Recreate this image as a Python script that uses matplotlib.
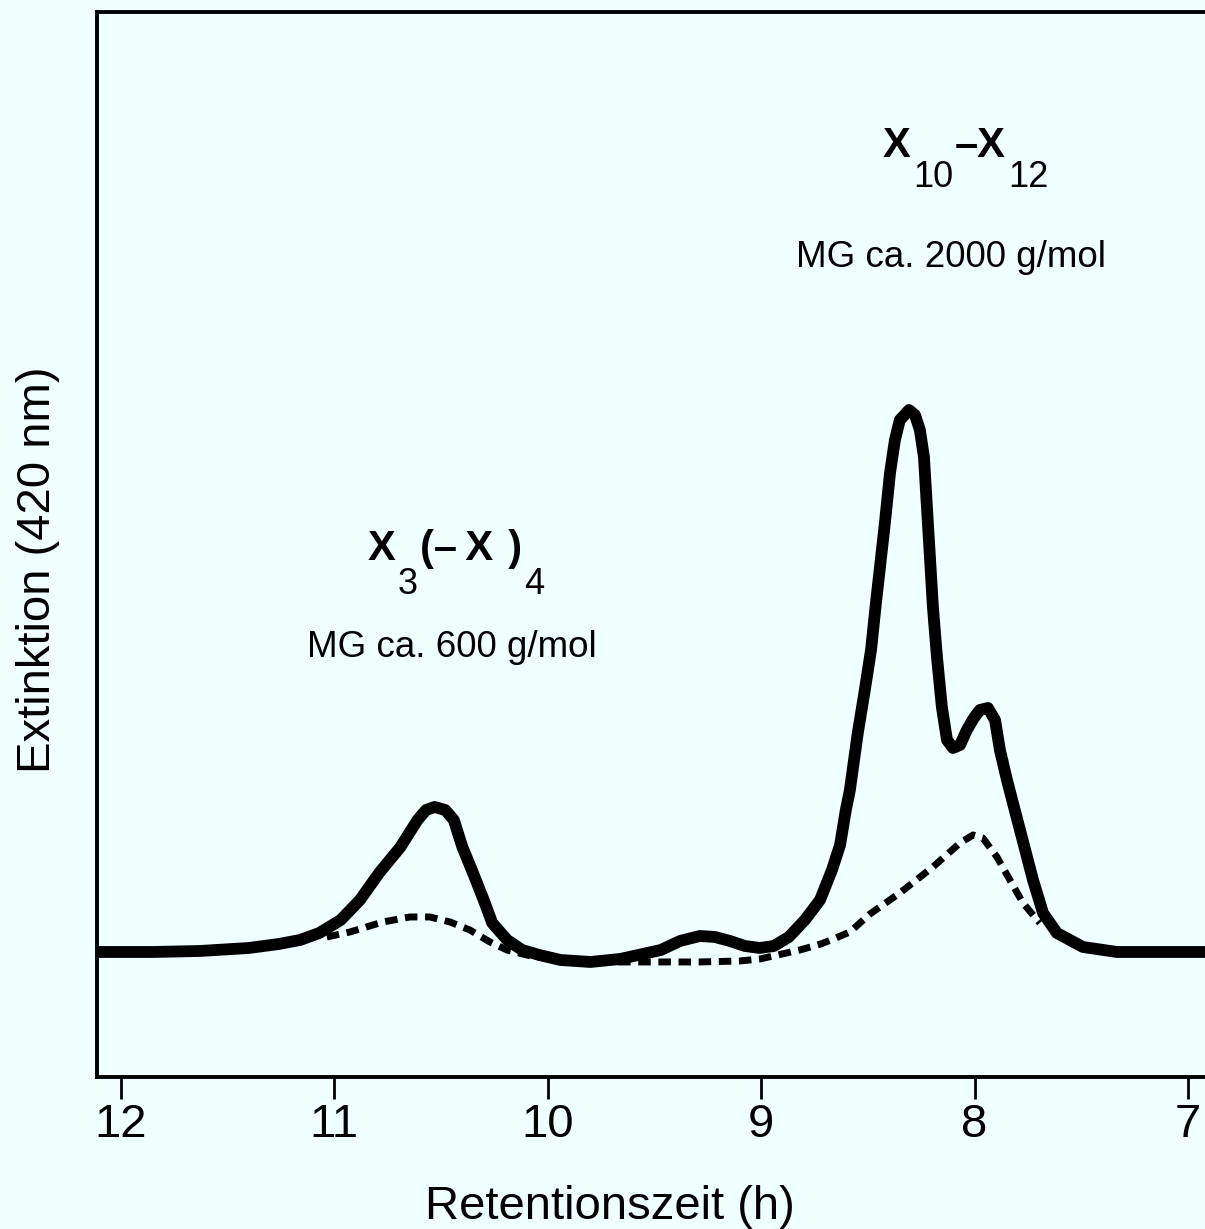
import numpy as np
import matplotlib
matplotlib.use('Agg')
from matplotlib import pyplot as plt
from matplotlib.transforms import offset_copy

plt.rcParams['font.family'] = ['Liberation Sans', 'DejaVu Sans']

# Chromatogramm, Werte
zeit = [12.10, 11.85, 11.63, 11.40, 11.26, 11.16, 11.07, 10.97, 10.88, 10.79,
        10.69, 10.61, 10.57, 10.53, 10.48, 10.44, 10.40, 10.35, 10.30, 10.26,
        10.19, 10.12, 10.04, 9.94, 9.80, 9.66, 9.47, 9.38, 9.287, 9.217,
        9.146, 9.076, 9.006, 8.94, 8.87, 8.795, 8.724, 8.668, 8.630, 8.603,
        8.584, 8.547, 8.514, 8.485,
        8.462, 8.443, 8.420, 8.396, 8.373, 8.350, 8.307, 8.279, 8.256, 8.237,
        8.223, 8.209, 8.195, 8.176, 8.153, 8.129, 8.101, 8.068, 8.036, 8.003,
        7.975, 7.937, 7.904, 7.881, 7.848, 7.820, 7.787, 7.726, 7.679, 7.614,
        7.492, 7.333, 6.92]
extinktion = [0.00, 0.00, 0.01, 0.04, 0.08, 0.12, 0.19, 0.32, 0.52, 0.79,
              1.05, 1.32, 1.42, 1.45, 1.42, 1.32, 1.05, 0.79, 0.52, 0.29,
              0.12, 0.02, -0.03, -0.08, -0.10, -0.07, 0.02, 0.11, 0.16, 0.15,
              0.11, 0.06, 0.04, 0.06, 0.15, 0.32, 0.52, 0.82, 1.07, 1.42,
              1.62, 2.19, 2.62, 3.02,
              3.49, 3.85, 4.29, 4.79, 5.12, 5.32, 5.42, 5.37, 5.22, 4.95,
              4.45, 3.95, 3.45, 2.95, 2.45, 2.12, 2.04, 2.07, 2.22, 2.34,
              2.42, 2.44, 2.32, 2.02, 1.72, 1.49, 1.22, 0.72, 0.39, 0.19,
              0.05, 0.00, 0.00]

# gestrichelte Kurve
zeit_2 = [11.035, 10.927, 10.772, 10.646, 10.552, 10.458, 10.365, 10.271, 10.191, 10.08,
          9.94, 9.80, 9.66, 9.47, 9.29, 9.10, 9.006, 8.818, 8.72, 8.65,
          8.584, 8.490, 8.350, 8.195, 8.068, 8.007, 7.961, 7.895, 7.834, 7.773,
          7.694]
extinktion_2 = [0.15, 0.20, 0.30, 0.35, 0.35, 0.30, 0.22, 0.10, 0.02, -0.04,
                -0.08, -0.10, -0.10, -0.10, -0.10, -0.09, -0.07, 0.02, 0.08, 0.14,
                0.20, 0.38, 0.59, 0.85, 1.09, 1.17, 1.14, 0.95, 0.72, 0.49,
                0.29]

ticks = [12, 11, 10, 9, 8, 7]

# Formeln: (Text, tiefgestellt?)
formel_1 = [('X', False), ('3', True), ('(–\u2009X \u200a)', False), ('4', True)]
formel_2 = [('X', False), ('10', True), ('–X', False), ('12', True)]

bg = '#f0ffff'
fig = plt.figure(figsize=(12.05, 12.29), dpi=100, facecolor=bg)
ax = fig.add_axes([0.0805, 0.1237, 0.9195, 0.8665], facecolor=bg)

ax.plot(zeit, extinktion, color='black', lw=8.5, solid_joinstyle='round',
        solid_capstyle='round')
ax.plot(zeit_2, extinktion_2, color='black', lw=5, linestyle=(0, (1.8, 1.1)),
        dash_capstyle='butt')

ax.set_xlim(12.112, 6.92)
ax.set_ylim(-1.25, 9.40)
ax.set_xticks(ticks)
ax.set_xticklabels([str(t) for t in ticks])
ax.set_yticks([])
ax.tick_params(axis='x', direction='out', length=16, width=2, pad=3,
               labelsize=34)
for s in ['left', 'top', 'bottom']:
    ax.spines[s].set_linewidth(2.8)
ax.spines['right'].set_visible(False)

ax.set_xlabel('Retentionszeit (h)', fontsize=34)
ax.xaxis.set_label_coords(0.463, -0.101)
ax.text(-0.053, 0.476, 'Extinktion (420 nm)', transform=ax.transAxes,
        rotation=90, ha='center', va='center', fontsize=34)

renderer = fig.canvas.get_renderer()


def formel(x, y, teile, drop):
    # Teile nacheinander setzen, Indizes tiefer und nicht fett
    dx = 0
    for s, sub in teile:
        tr = offset_copy(ax.transAxes, fig=fig, x=dx, y=-drop if sub else 0,
                         units='dots')
        if sub:
            t = ax.text(x, y, s, transform=tr, ha='left', va='baseline',
                        fontsize=26)
        else:
            t = ax.text(x, y, s, transform=tr, ha='left', va='baseline',
                        fontsize=30, fontweight='bold')
        dx += t.get_window_extent(renderer).width + 2


formel(0.2446, 0.4854, formel_1, 34)
formel(0.7094, 0.8638, formel_2, 30)

ax.text(0.320, 0.394, 'MG ca. 600 g/mol', transform=ax.transAxes,
        ha='center', va='baseline', fontsize=26.5)
ax.text(0.771, 0.7606, 'MG ca. 2000 g/mol', transform=ax.transAxes,
        ha='center', va='baseline', fontsize=26.5)

plt.savefig('out.png', dpi=100, facecolor=bg)
